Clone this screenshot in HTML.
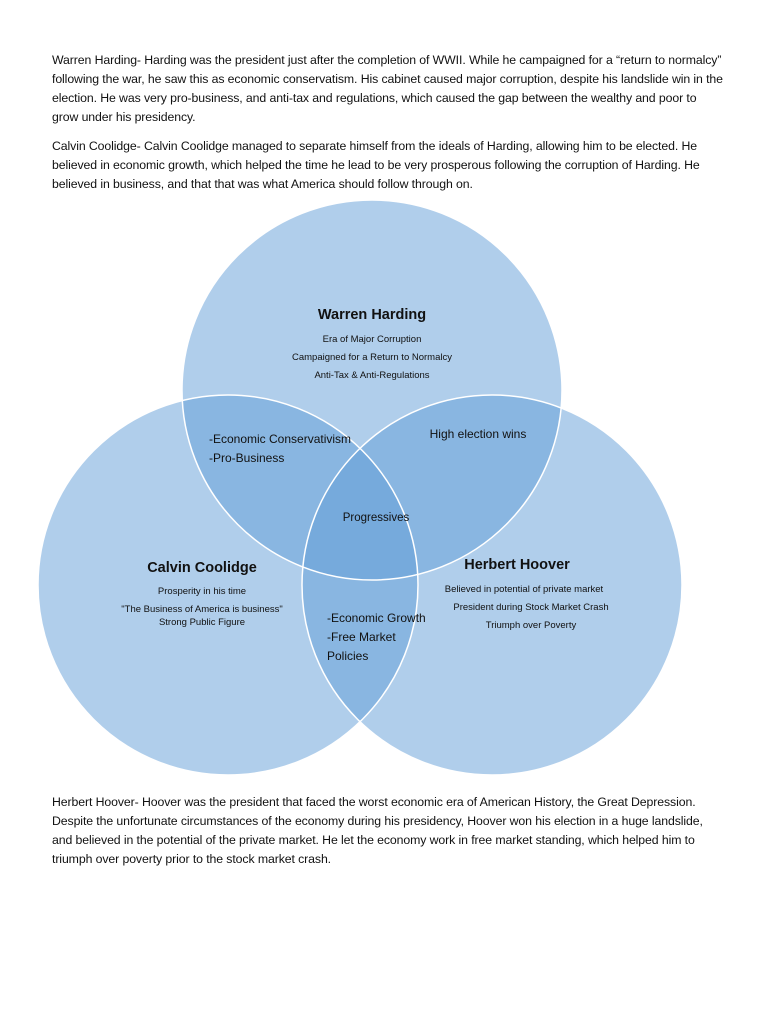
<!DOCTYPE html>
<html><head><meta charset="utf-8"><style>
body{margin:0;background:#fff;width:768px;height:1024px;position:relative;overflow:hidden;font-family:"Liberation Sans",Arial,sans-serif;color:#111}
.p{position:absolute;left:52px;width:672px;font-size:12.3px;line-height:19px;letter-spacing:-0.1px}
svg{position:absolute;left:0;top:0}
</style></head><body>
<div class="p" style="top:51px">Warren Harding- Harding was the president just after the completion of WWII. While he campaigned for a “return to normalcy” following the war, he saw this as economic conservatism. His cabinet caused major corruption, despite his landslide win in the election. He was very pro-business, and anti-tax and regulations, which caused the gap between the wealthy and poor to grow under his presidency.</div>
<div class="p" style="top:137px">Calvin Coolidge- Calvin Coolidge managed to separate himself from the ideals of Harding, allowing him to be elected. He believed in economic growth, which helped the time he lead to be very prosperous following the corruption of Harding. He believed in business, and that that was what America should follow through on.</div>
<svg width="768" height="1024">
<g fill="rgb(100,159,216)" fill-opacity="0.51">
<circle cx="372" cy="390" r="190"/>
<circle cx="228" cy="585" r="190"/>
<circle cx="492" cy="585" r="190"/>
</g>
<g fill="none" stroke="#fff" stroke-width="1.5">
<circle cx="372" cy="390" r="190"/>
<circle cx="228" cy="585" r="190"/>
<circle cx="492" cy="585" r="190"/>
</g>
<g font-family="Liberation Sans,Arial,sans-serif" fill="#111">
<text x="372" y="319" font-size="14.5" font-weight="bold" text-anchor="middle">Warren Harding</text>
<text x="372" y="342" font-size="9.5" text-anchor="middle">Era of Major Corruption</text>
<text x="372" y="360" font-size="9.5" text-anchor="middle">Campaigned for a Return to Normalcy</text>
<text x="372" y="378" font-size="9.5" text-anchor="middle">Anti-Tax &amp; Anti-Regulations</text>
<text x="209" y="443" font-size="12">-Economic Conservativism</text>
<text x="209" y="462" font-size="12">-Pro-Business</text>
<text x="478" y="438" font-size="12" text-anchor="middle">High election wins</text>
<text x="376" y="521" font-size="11.5" text-anchor="middle">Progressives</text>
<text x="202" y="572" font-size="14.5" font-weight="bold" text-anchor="middle">Calvin Coolidge</text>
<text x="202" y="594" font-size="9.5" text-anchor="middle">Prosperity in his time</text>
<text x="202" y="612" font-size="9.5" text-anchor="middle">"The Business of America is business"</text>
<text x="202" y="625" font-size="9.5" text-anchor="middle">Strong Public Figure</text>
<text x="517" y="569" font-size="14.5" font-weight="bold" text-anchor="middle">Herbert Hoover</text>
<text x="524" y="592" font-size="9.5" text-anchor="middle">Believed in potential of private market</text>
<text x="531" y="610" font-size="9.5" text-anchor="middle">President during Stock Market Crash</text>
<text x="531" y="628" font-size="9.5" text-anchor="middle">Triumph over Poverty</text>
<text x="327" y="622" font-size="12">-Economic Growth</text>
<text x="327" y="641" font-size="12">-Free Market</text>
<text x="327" y="660" font-size="12">Policies</text>
</g>
</svg>
<div class="p" style="top:793px">Herbert Hoover- Hoover was the president that faced the worst economic era of American History, the Great Depression. Despite the unfortunate circumstances of the economy during his presidency, Hoover won his election in a huge landslide, and believed in the potential of the private market. He let the economy work in free market standing, which helped him to triumph over poverty prior to the stock market crash.</div>
</body></html>
